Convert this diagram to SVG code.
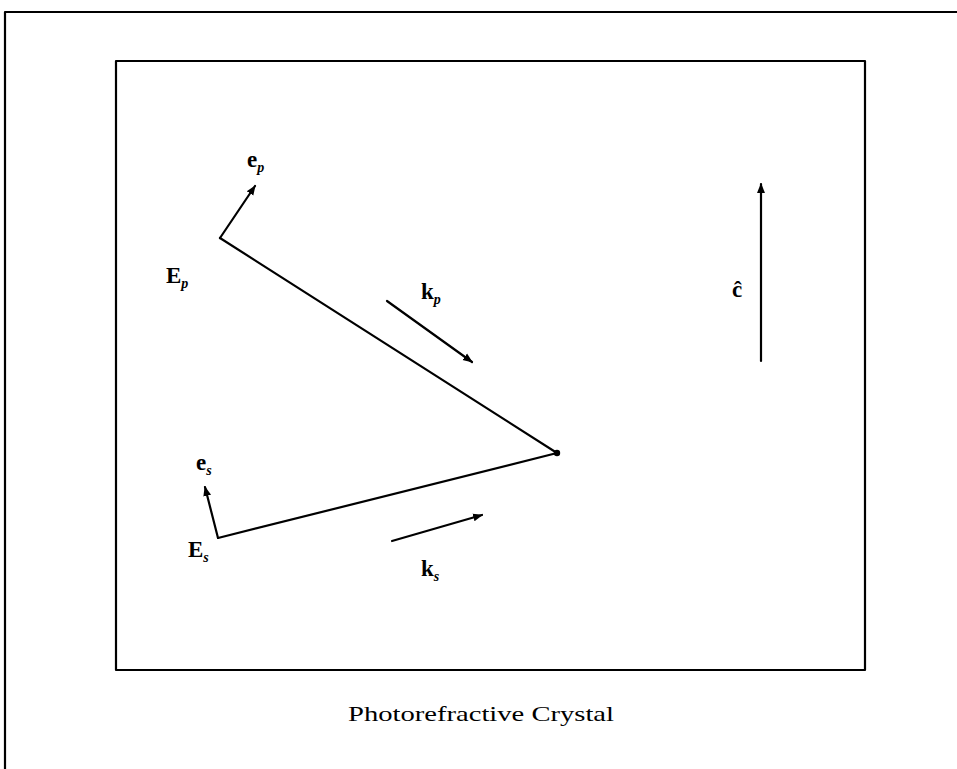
<svg xmlns="http://www.w3.org/2000/svg" width="957" height="769" viewBox="0 0 957 769">
<defs>
<marker id="ah" viewBox="0 0 10 10" refX="9" refY="5" markerWidth="4.5" markerHeight="4.5" orient="auto" markerUnits="strokeWidth">
<path d="M0,1 L10,5 L0,9 z" fill="#000"/>
</marker>
</defs>
<style>
.ln{stroke:#000;stroke-width:2.2;fill:none;stroke-linecap:round;stroke-linejoin:round}
.lab{font-family:"Liberation Serif","DejaVu Serif",serif;font-weight:bold;font-size:23px;fill:#000}
.sub{font-family:"Liberation Serif","DejaVu Serif",serif;font-style:italic;font-weight:bold;font-size:14px}
.cap{font-family:"Liberation Serif","DejaVu Serif",serif;font-size:21px;fill:#000}
</style>
<rect width="957" height="769" fill="#fff"/>
<g id="frame">
<path d="M5,769 L5,12 L957,12" class="ln"/>
</g>
<g id="crystal">
<rect x="116" y="61" width="749" height="609" class="ln"/>
</g>
<g id="connectors">
<path d="M220,238 L557,453 L218,538" class="ln"/>
<circle cx="557" cy="453" r="3.2" fill="#000"/>
<line x1="220" y1="238" x2="255" y2="186" class="ln" marker-end="url(#ah)"/>
<line x1="218" y1="538" x2="205" y2="487" class="ln" marker-end="url(#ah)"/>
<line x1="387" y1="301" x2="472" y2="362" class="ln" marker-end="url(#ah)"/>
<line x1="392" y1="541" x2="482" y2="515" class="ln" marker-end="url(#ah)"/>
<line x1="761" y1="361" x2="761" y2="184" class="ln" marker-end="url(#ah)"/>
</g>
<g id="label-ep"><text x="247" y="167" class="lab">e<tspan class="sub" dy="5">p</tspan></text></g>
<g id="label-Ep"><text x="166" y="283" class="lab">E<tspan class="sub" dy="5">p</tspan></text></g>
<g id="label-kp"><text x="421" y="299" class="lab">k<tspan class="sub" dy="5">p</tspan></text></g>
<g id="label-es"><text x="196" y="470" class="lab">e<tspan class="sub" dy="5">s</tspan></text></g>
<g id="label-Es"><text x="188" y="557" class="lab">E<tspan class="sub" dy="5">s</tspan></text></g>
<g id="label-ks"><text x="421" y="576" class="lab">k<tspan class="sub" dy="5">s</tspan></text></g>
<g id="label-c"><text x="732" y="297" class="lab">ĉ</text></g>
<g id="caption"><text x="348" y="721" class="cap" textLength="266" lengthAdjust="spacingAndGlyphs">Photorefractive Crystal</text></g>
</svg>
